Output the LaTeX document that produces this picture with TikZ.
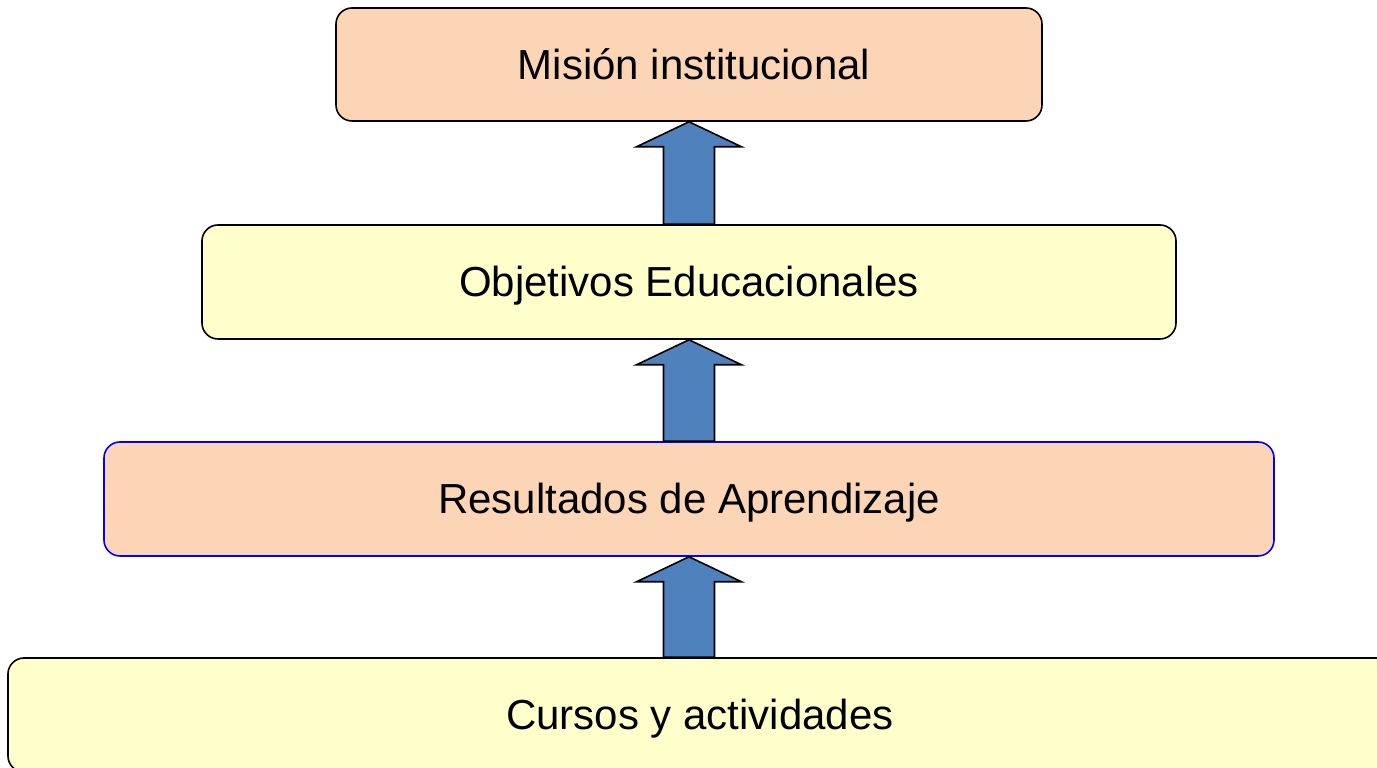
\documentclass[tikz,border=0pt]{standalone}
\usepackage{fontspec}
\setmainfont{Liberation Sans}
\usetikzlibrary{calc}
\definecolor{peach}{HTML}{FBD5B5}
\definecolor{paleyellow}{HTML}{FFFFCC}
\definecolor{arrowblue}{HTML}{4F81BD}
\definecolor{edgeblue}{HTML}{0000FF}
\tikzset{
  levelbox/.style={draw=black, line width=1.6pt, rounded corners=16pt, inner sep=0pt,
    text height=30pt, text depth=0pt,
    font=\fontsize{42}{50}\selectfont, text=black},
  blockarrow/.style={draw=black, fill=arrowblue, line width=1.6pt, line join=miter}
}
\begin{document}
\begin{tikzpicture}[x=1pt,y=1pt]
\useasboundingbox (0,0) rectangle (1377,768);
\clip (0,0) rectangle (1377,768);
\node[levelbox, fill=peach, minimum width=706pt, minimum height=113pt] (mision) at (689,703.5) {\hspace*{10pt}Misión institucional};
\node[levelbox, fill=paleyellow, minimum width=974pt, minimum height=114pt] (objetivos) at (689,486) {Objetivos Educacionales};
\node[levelbox, fill=peach, draw=edgeblue, minimum width=1170pt, minimum height=114pt] (resultados) at (689,269) {Resultados de Aprendizaje};
\node[levelbox, fill=paleyellow, minimum width=1384pt, minimum height=114pt] (cursos) at (700,53) {Cursos y actividades};
\foreach \lo/\hi in {objetivos/mision, resultados/objetivos, cursos/resultados}{
  \draw[blockarrow] let \p1=(\lo.north), \p2=(\hi.south) in
    (\x2-25.5,\y1) -- (\x2-25.5,\y2-25) -- (\x2-52.5,\y2-25) -- (\x2,\y2)
    -- (\x2+52.5,\y2-25) -- (\x2+25.5,\y2-25) -- (\x2+25.5,\y1) -- cycle;
}
\end{tikzpicture}
\end{document}
